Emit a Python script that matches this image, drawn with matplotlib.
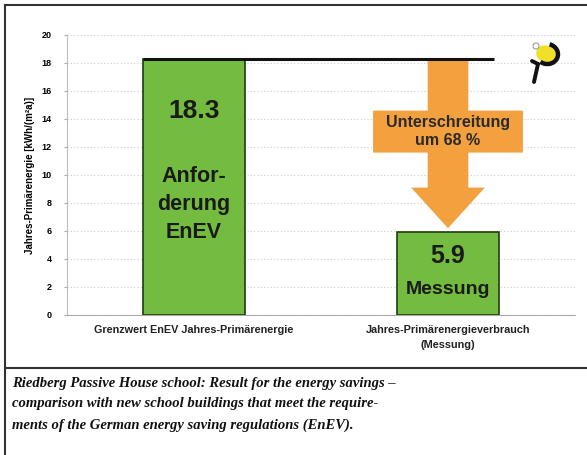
import matplotlib
matplotlib.use("Agg")
import matplotlib.pyplot as plt
from matplotlib.patches import Polygon, Ellipse, Arc, Circle
from matplotlib.lines import Line2D

categories = ["Grenzwert EnEV Jahres-Primärenergie", "Jahres-Primärenergieverbrauch\n(Messung)"]
values = [18.3, 5.9]
bar_labels = ["Anfor-\nderung\nEnEV", "Messung"]
yticks = [0, 2, 4, 6, 8, 10, 12, 14, 16, 18, 20]
ylabel = "Jahres-Primärenergie [kWh/(m²a)]"
arrow_text = "Unterschreitung\num 68 %"
caption = ("Riedberg Passive House school: Result for the energy savings –\n"
           "comparison with new school buildings that meet the require-\n"
           "ments of the German energy saving regulations (EnEV).")

W, H = 587, 455
fig = plt.figure(figsize=(W / 100, H / 100), dpi=100)
fig.patch.set_facecolor("white")

ax = fig.add_axes([67 / W, 1 - 315 / H, (575 - 67) / W, (315 - 35) / H])
ax.set_xlim(-0.5, 1.5)
ax.set_ylim(0, 20)
ax.set_yticks(yticks)
ax.set_yticklabels([str(t) for t in yticks], fontsize=6.5, fontweight="bold", family="Liberation Sans")
ax.tick_params(axis="y", length=2, color="#aaaaaa", pad=9)
ax.set_xticks([0, 1])
ax.set_xticklabels(categories, fontsize=7.8, fontweight="bold", family="Liberation Sans",
                   color="#222222", linespacing=1.6)
ax.tick_params(axis="x", length=0, pad=7)
ax.set_ylabel(ylabel, fontsize=7, fontweight="bold", family="Liberation Sans", labelpad=5)
for s in ["top", "right"]:
    ax.spines[s].set_visible(False)
ax.spines["left"].set_color("#bbbbbb")
ax.spines["left"].set_linestyle((0, (1, 1)))
ax.spines["bottom"].set_color("#aaaaaa")
ax.spines["bottom"].set_linestyle((0, (1, 1)))
ax.yaxis.grid(True, color="#cccccc", linestyle=(0, (1, 2)), linewidth=0.8)
ax.set_axisbelow(True)

green = "#74BC40"
bars = ax.bar([0, 1], values, width=0.40, color=green, edgecolor="#1f3d10", linewidth=1.2, zorder=3)

# reference line at the EnEV value
ax.hlines(values[0], -0.2, 1.18, color="#111111", linewidth=2.2, zorder=5)

# orange down arrow with text box
orange = "#F2A13E"
cx = 1.0
top = values[0] - 0.1
tip = values[1] + 0.3
box_top, box_bot = 14.6, 11.6
head_y = 9.1
sw, bw, hw = 0.08, 0.295, 0.145
pts = [(cx - sw, top), (cx + sw, top), (cx + sw, box_top), (cx + bw, box_top),
       (cx + bw, box_bot), (cx + sw, box_bot), (cx + sw, head_y), (cx + hw, head_y),
       (cx, tip), (cx - hw, head_y), (cx - sw, head_y), (cx - sw, box_bot),
       (cx - bw, box_bot), (cx - bw, box_top), (cx - sw, box_top)]
ax.add_patch(Polygon(pts, closed=True, facecolor=orange, edgecolor="none", zorder=4))
ax.text(cx, (box_top + box_bot) / 2, arrow_text, ha="center", va="center", fontsize=11.5,
        fontweight="bold", family="Liberation Sans", color="#2a2a2a", linespacing=1.2, zorder=6)

# bar annotations
ax.text(0, 14.6, f"{values[0]}", ha="center", va="center", fontsize=19, fontweight="bold",
        family="Liberation Sans", color="#1a1a1a", zorder=6)
ax.text(0, 7.9, bar_labels[0], ha="center", va="center", fontsize=15.5, fontweight="bold",
        family="Liberation Sans", color="#1a1a1a", linespacing=1.45, zorder=6)
ax.text(1, 4.2, f"{values[1]}", ha="center", va="center", fontsize=18, fontweight="bold",
        family="Liberation Sans", color="#1a1a1a", zorder=6)
ax.text(1, 1.8, bar_labels[1], ha="center", va="center", fontsize=14, fontweight="bold",
        family="Liberation Sans", color="#1a1a1a", zorder=6)

# frame lines
fig.add_artist(Line2D([5 / W, 1], [1 - 5 / H, 1 - 5 / H], color="#333333", linewidth=1.5))
fig.add_artist(Line2D([5 / W, 5 / W], [0, 1 - 5 / H], color="#333333", linewidth=1.5))
fig.add_artist(Line2D([5 / W, 1], [1 - 368 / H, 1 - 368 / H], color="#333333", linewidth=1.5))

# logo
lax = fig.add_axes([527 / W, 1 - 88 / H, 36 / W, 48 / H])
lax.set_xlim(0, 36)
lax.set_ylim(0, 48)
lax.axis("off")
lax.add_patch(Ellipse((19, 34), 20, 17, angle=-20, facecolor="#F1E02A", edgecolor="none"))
lax.add_patch(Arc((20, 34), 22, 20, angle=-10, theta1=-120, theta2=85, color="#111111", linewidth=3.2))
lax.add_patch(Circle((9, 42), 3, facecolor="white", edgecolor="#999999", linewidth=0.8))
lax.plot([11, 7], [24, 6], color="#111111", linewidth=2.8, solid_capstyle="round")
lax.plot([5, 11], [27, 24], color="#111111", linewidth=2.8, solid_capstyle="round")

# caption
fig.text(12 / W, 1 - 377 / H, caption, ha="left", va="top", fontsize=10.5, style="italic",
         fontweight="bold", family="Liberation Serif", color="#111111", linespacing=1.75)

fig.savefig("out.png", dpi=100, facecolor="white")
